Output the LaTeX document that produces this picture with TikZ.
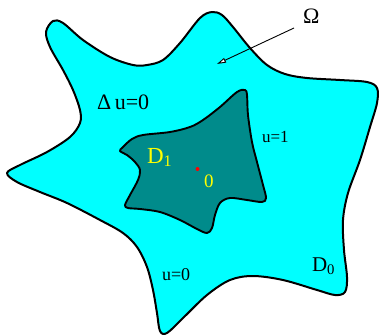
\documentclass[tikz,border=0pt]{standalone}
\usepackage{fontspec}
\setmainfont{Liberation Serif}
\usetikzlibrary{arrows.meta}
\definecolor{regioncyan}{RGB}{0,255,255}
\definecolor{innerteal}{RGB}{0,139,139}
\definecolor{labelyellow}{RGB}{255,255,0}
\tikzset{
  outerregion/.style={fill=regioncyan, draw=black, line width=2pt, line join=round},
  innerregion/.style={fill=innerteal, draw=black, line width=1.9pt, line join=round},
  pointer/.style={draw=black, line width=0.9pt, -{Triangle[length=9pt, width=5pt, fill=white]}},
  lbl/.style={anchor=base west, inner sep=0pt, outer sep=0pt},
}
\begin{document}
\begin{tikzpicture}[x=1pt,y=-1pt]
\useasboundingbox (0,0) rectangle (380,335);
% outer domain
\path[outerregion] plot[smooth cycle, tension=0.55] coordinates {
 (7,173) (20,165) (47,152) (70,137) (80,123) (80,110) (73,90) (63,70) (50,47)
 (46,32) (53,21) (63,23) (83,40) (110,57) (133,65) (147,65) (163,60) (180,43)
 (200,18) (212,12) (222,15) (233,27) (250,48) (267,65) (285,74) (307,78)
 (340,80) (367,82) (377,88) (377,103) (370,127) (360,160) (348,193) (343,220)
 (344,250) (347,277) (345,292) (335,295) (317,290) (283,280) (253,276)
 (230,280) (207,295) (183,318) (167,333) (160,331) (157,313) (153,290)
 (147,267) (137,247) (123,233) (100,220) (67,203) (40,192) (17,182)};
% inner domain
\path[innerregion] plot[smooth cycle, tension=0.55] coordinates {
 (245,90) (237,92) (220,107) (203,120) (190,127) (170,132) (143,135) (132,139)
 (123,147) (120,151) (127,155) (135,162) (140,170) (138,180) (130,195)
 (125,205) (128,208) (140,209) (160,212) (180,220) (197,229) (207,233)
 (212,228) (215,215) (220,203) (230,198) (247,200) (262,202) (266,198)
 (263,185) (257,162) (252,142) (248,115) (247,95)};
% origin
\fill[red] (197.5,169) circle (2pt);
\coordinate (origin) at (197.5,169);
% labels
\node[lbl] (omega) at (303,23) {\fontsize{22pt}{24pt}\selectfont Ω};
\node[lbl] (laplace) at (97,109) {\fontsize{22pt}{24pt}\selectfont Δ\,u=0};
\node[lbl] (uone) at (262,142) {\fontsize{17pt}{19pt}\selectfont u=1};
\node[lbl] (uzero) at (162,280) {\fontsize{18pt}{20pt}\selectfont u=0};
\node[lbl] (dzero) at (312,271) {\fontsize{21pt}{23pt}\selectfont D\textsubscript{0}};
\node[lbl, text=labelyellow] (done) at (147,163) {\fontsize{23pt}{25pt}\selectfont D\textsubscript{1}};
\node[lbl, text=labelyellow] (zero) at (204,187) {\fontsize{19pt}{21pt}\selectfont 0};
% arrow
\coordinate (arrowstart) at (294,28);
\coordinate (arrowtip) at (217,64);
\draw[pointer] (arrowstart) -- (arrowtip);
\end{tikzpicture}
\end{document}
